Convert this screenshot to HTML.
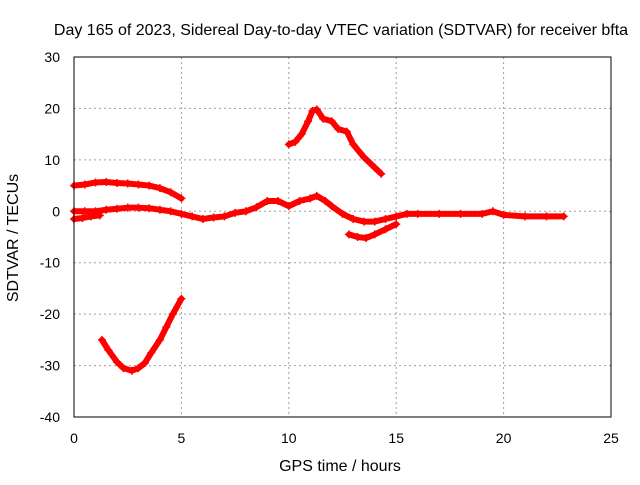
<!DOCTYPE html>
<html><head><meta charset="utf-8"><style>
body{margin:0;background:#fff;font-family:"Liberation Sans",sans-serif;}
svg text{font-family:"Liberation Sans",sans-serif;font-size:14px;fill:#000;}
svg text.big{font-size:16px;}
</style></head><body>
<svg id="chart" width="640" height="480" xmlns="http://www.w3.org/2000/svg">
<text class="big" x="341" y="35" text-anchor="middle">Day 165 of 2023, Sidereal Day-to-day VTEC variation (SDTVAR) for receiver bfta</text>
<text class="big" x="340" y="471" text-anchor="middle">GPS time / hours</text>
<text class="big" transform="translate(18,238) rotate(-90)" text-anchor="middle">SDTVAR / TECUs</text>
<g id="grid"></g><g id="ticks"></g><g id="marks"></g>
<rect x="74" y="57" width="537" height="360" fill="none" stroke="#000" stroke-width="1"/>
</svg>
<script>
const xTicks=[0,5,10,15,20,25];
const yTicks=[30,20,10,0,-10,-20,-30,-40];
const segA_x=[0,0.5,1,1.5,2,2.5,3,3.5,4,4.5,5];
const segA_y=[5,5.2,5.6,5.7,5.5,5.4,5.2,5,4.5,3.7,2.5];
const segB_x=[1.3,1.6,2,2.3,2.7,3,3.3,3.6,4,4.3,4.6,5];
const segB_y=[-25,-27,-29.3,-30.5,-31,-30.5,-29.5,-27.5,-25,-22.5,-20,-17];
const segC_x=[0,0.5,1,1.5,2,2.5,3,3.5,4,4.5,5,5.5,6,6.5,7,7.5,8,8.5,9,9.5,10,10.5,11,11.3,11.7,12,12.5,13,13.5,14,14.5,15,15.5,16,17,18,19,19.5,20,21,22,22.8];
const segC_y=[0,0,0,0.3,0.5,0.7,0.7,0.6,0.3,0,-0.5,-1,-1.5,-1.2,-1,-0.3,0,0.8,2,2,1,2,2.5,3,2,1,-0.5,-1.5,-2,-2,-1.5,-1,-0.5,-0.5,-0.5,-0.5,-0.5,0,-0.7,-1,-1,-1];
const segD_x=[0,0.4,0.8,1.2];
const segD_y=[-1.5,-1.3,-1,-0.8];
const segE_x=[12.8,13.2,13.6,14,14.5,15];
const segE_y=[-4.5,-5,-5.2,-4.5,-3.5,-2.5];
const segF_x=[10,10.3,10.6,10.9,11.1,11.3,11.6,12,12.3,12.7,13,13.5,14,14.3];
const segF_y=[13,13.5,15,17.5,19.5,19.8,18,17.5,16,15.5,13,10.5,8.5,7.3];
const X=v=>74+v*537/25, Y=v=>57+(30-v)*360/70;
const NS="http://www.w3.org/2000/svg";
const grid=document.getElementById('grid'),ticks=document.getElementById('ticks'),marks=document.getElementById('marks');
function mk(tag,attrs,parent){const e=document.createElementNS(NS,tag);for(const k in attrs)e.setAttribute(k,attrs[k]);parent.appendChild(e);return e;}
xTicks.forEach(t=>{
 if(t>0&&t<25){const g=mk('line',{x1:X(t),x2:X(t),y1:57,y2:417,stroke:'#a0a0a0','stroke-dasharray':'2,3'},grid);
 
 }
 const l=mk('text',{x:X(t),y:443,'text-anchor':'middle'},ticks);l.textContent=t;
 
 
});
yTicks.forEach(t=>{
 if(t<30&&t>-40){const g=mk('line',{x1:74,x2:611,y1:Y(t),y2:Y(t),stroke:'#a0a0a0','stroke-dasharray':'2,3'},grid);
 
 }
 const l=mk('text',{x:60,y:Y(t)+5,'text-anchor':'end'},ticks);l.textContent=t;
 
 
});
const segs=[[segA_x,segA_y],[segB_x,segB_y],[segC_x,segC_y],[segD_x,segD_y],[segE_x,segE_y],[segF_x,segF_y]];
segs.forEach((s,i)=>{
 const pts=s[0].map((x,j)=>X(x)+','+Y(s[1][j])).join(' ');
 const p=mk('polyline',{points:pts,fill:'none',stroke:'#f00','stroke-width':6,'stroke-linejoin':'round','stroke-linecap':'round'},marks);
 
 
 s[0].forEach((x,j)=>{
  const m=mk('path',{d:`M${X(x)-4},${Y(s[1][j])}h8M${X(x)},${Y(s[1][j])-4}v8`,stroke:'#f00','stroke-width':1.5},marks);
  
  
 });
});
</script>
</body></html>
